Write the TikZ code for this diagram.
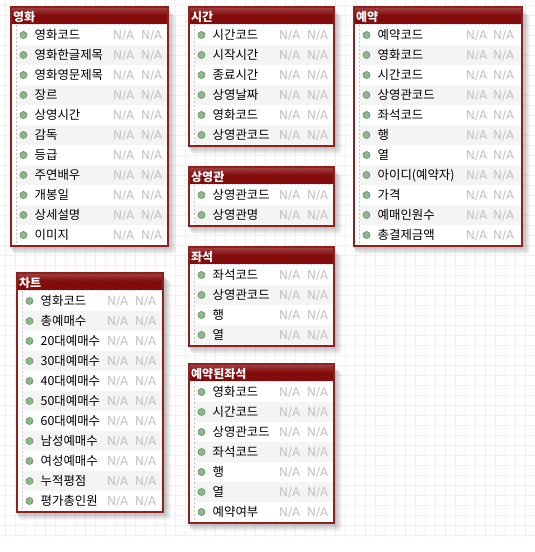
\documentclass[tikz,border=0pt]{standalone}
\usepackage{fontspec}
\setmainfont{Noto Sans CJK KR}
\newfontfamily\nafont{DejaVu Sans}
\usetikzlibrary{patterns}
\definecolor{hdr}{HTML}{8E0E0E}
\definecolor{hdrtop}{HTML}{B24848}
\definecolor{framec}{HTML}{8B2222}
\definecolor{rowalt}{HTML}{F4F4F4}
\definecolor{gridc}{HTML}{F0F0F0}
\definecolor{nagray}{HTML}{C2C2C2}
\definecolor{dotc}{HTML}{8DB88D}
\definecolor{dotd}{HTML}{5F8F5F}
\definecolor{dashc}{HTML}{C4C4C4}

\newcommand\erTable[9]{%
\begin{scope}[shift={(#2,#3)}]
 \pgfmathsetmacro\erH{18+20*#9+1}
 \foreach \s in {1,...,8}{\fill[black,opacity=0.035,rounded corners=3pt] (-1+0.3*\s,\s) rectangle (#4+\s,\erH+\s);}
 \fill[white] (0,0) rectangle (#4,\erH);
 \shade[top color=hdrtop,bottom color=hdr] (0,0) rectangle (#4,8);
 \fill[hdr] (0,8) rectangle (#4,17);
 \fill[pattern=north east lines,pattern color=black,opacity=0.25] (0,0) rectangle (#4,17);
 \node[erTitle] (#1) at (2,14.8) {#7};
 \foreach \r [count=\i from 0] in {#8}{%
   \ifodd\i\relax \fill[rowalt] (6,18+20*\i) rectangle (#4,38+20*\i);\fi
   \node[bulletdot] (#1-b\i) at (12.5,28+20*\i) {};
   \node[fieldtext] (#1-f\i) at (23.5,32.7+20*\i) {\r};
   \node[natext] (#1-n\i) at (#5,32.6+20*\i) {N/A};
   \node[natext] (#1-m\i) at (#6,32.6+20*\i) {N/A};
 }
 \draw[dashc,dash pattern=on 2pt off 2pt,line width=0.8pt] (5.5,18) -- (5.5,\erH);
 \draw[framec,line width=1.2pt] (0,0) rectangle (#4,\erH);
\end{scope}}

\begin{document}
\begin{tikzpicture}[x=1pt,y=-1pt,
  bulletdot/.style={circle,inner sep=0pt,minimum size=7pt,draw=dotd,line width=0.6pt,fill=dotc},
  fieldtext/.style={anchor=base west,inner sep=0pt,font=\fontsize{12.4}{14}\selectfont},
  natext/.style={anchor=base west,inner sep=0pt,text=nagray,font=\nafont\fontsize{12}{14}\selectfont},
  erTitle/.style={anchor=base west,inner sep=0pt,text=white,font=\bfseries\fontsize{12}{14}\selectfont}]
\useasboundingbox (0,0) rectangle (535,552);
\fill[white] (0,0) rectangle (535,552);
\foreach \g in {5,15,...,535}{\draw[gridc,line width=0.7pt] (\g,0) -- (\g,537);}
\foreach \g in {5,15,...,535}{\draw[gridc,line width=0.7pt] (0,\g) -- (535,\g);}

\erTable{movie}{11}{7}{157}{102}{130}{영화}{영화코드,영화한글제목,영화영문제목,장르,상영시간,감독,등급,주연배우,개봉일,상세설명,이미지}{11}
\erTable{time}{189}{7}{145}{90}{118}{시간}{시간코드,시작시간,종료시간,상영날짜,영화코드,상영관코드}{6}
\erTable{resv}{354}{7}{168}{112}{139}{예약}{예약코드,영화코드,시간코드,상영관코드,좌석코드,행,열,아이디(예약자),가격,예매인원수,총결제금액}{11}
\erTable{theater}{189}{167}{145}{90}{118}{상영관}{상영관코드,상영관명}{2}
\erTable{seat}{189}{247}{145}{90}{118}{좌석}{좌석코드,상영관코드,행,열}{4}
\erTable{chart}{17}{273}{146}{90}{118}{차트}{영화코드,총예매수,20대예매수,30대예매수,40대예매수,50대예매수,60대예매수,남성예매수,여성예매수,누적평점,평가총인원}{11}
\erTable{rseat}{189}{364}{145}{90}{118}{예약된좌석}{영화코드,시간코드,상영관코드,좌석코드,행,열,예약여부}{7}
\end{tikzpicture}
\end{document}
